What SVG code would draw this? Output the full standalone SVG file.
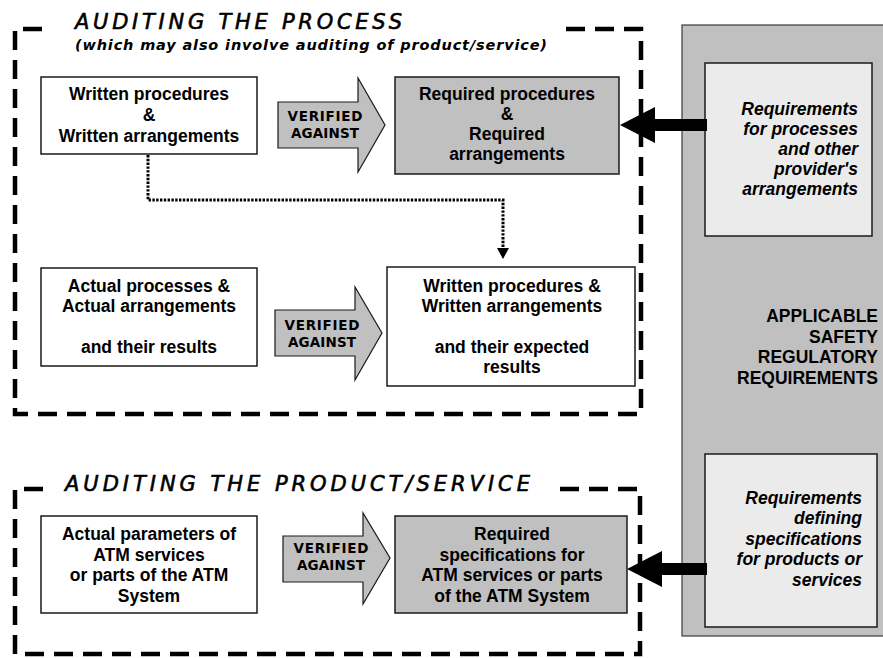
<svg xmlns="http://www.w3.org/2000/svg" width="883" height="658" viewBox="0 0 883 658">
  <defs>
    <style>
      .frame { fill: none; stroke: #000; stroke-width: 4.5; stroke-dasharray: 19 10; }
      .box { fill: #fff; stroke: #1a1a1a; stroke-width: 1.5; }
      .gbox { fill: #c0c0c0; stroke: #1a1a1a; stroke-width: 1.5; }
      .panel { fill: #c0c0c0; stroke: #3a3a3a; stroke-width: 1.2; }
      .lbox { fill: #ebebeb; stroke: #1a1a1a; stroke-width: 1.5; }
      .varrow { fill: #c0c0c0; stroke: #1a1a1a; stroke-width: 1.2; }
      .barrow { fill: #000; }
      .dotted { fill: none; stroke: #000; stroke-width: 3; stroke-dasharray: 2.4 1.4; }
      .title { font-family: "DejaVu Sans", Verdana, sans-serif; font-style: oblique; font-size: 21px; fill: #000; stroke: #000; stroke-width: 0.6; }
      .sub { font-family: "DejaVu Sans", Verdana, sans-serif; font-style: oblique; font-weight: bold; font-size: 14.5px; fill: #000; }
      .t { font-family: "Liberation Sans", Arial, sans-serif; font-weight: bold; font-size: 17.5px; fill: #000; text-anchor: middle; }
      .ti { font-family: "Liberation Sans", Arial, sans-serif; font-weight: bold; font-style: italic; font-size: 17.5px; fill: #000; text-anchor: end; }
      .tr { font-family: "Liberation Sans", Arial, sans-serif; font-weight: bold; font-size: 17.5px; fill: #000; text-anchor: end; }
      .va { font-family: "DejaVu Sans", Verdana, sans-serif; font-weight: bold; font-size: 13.5px; fill: #000; text-anchor: middle; }
    </style>
    <marker id="dotHead" viewBox="0 0 11 12" refX="2" refY="6" markerWidth="11" markerHeight="12" markerUnits="userSpaceOnUse" orient="auto">
      <path d="M0,0 L11,6 L0,12 Z" fill="#000"/>
    </marker>
  </defs>

  <!-- regulatory requirements panel -->
  <g id="regulatory-panel">
    <rect class="panel" x="682" y="25" width="210" height="611"/>
    <text class="tr" x="878" y="322">APPLICABLE</text>
    <text class="tr" x="878" y="343">SAFETY</text>
    <text class="tr" x="878" y="363">REGULATORY</text>
    <text class="tr" x="878" y="384">REQUIREMENTS</text>
  </g>
  <g id="req-processes">
    <rect class="lbox" x="705" y="63" width="167" height="173"/>
    <text class="ti" x="858" y="115">Requirements</text>
    <text class="ti" x="858" y="135">for processes</text>
    <text class="ti" x="858" y="155">and other</text>
    <text class="ti" x="858" y="175">provider's</text>
    <text class="ti" x="858" y="195">arrangements</text>
  </g>
  <g id="req-specifications">
    <rect class="lbox" x="705" y="454" width="172" height="173"/>
    <text class="ti" x="862" y="504">Requirements</text>
    <text class="ti" x="862" y="524">defining</text>
    <text class="ti" x="862" y="545">specifications</text>
    <text class="ti" x="862" y="565">for products or</text>
    <text class="ti" x="862" y="586">services</text>
  </g>

  <!-- process audit frame -->
  <g id="process-frame">
    <path class="frame" d="M566,29 H641 V414 H15 V29 H50"/>
    <text class="title" x="75" y="29" textLength="327" lengthAdjust="spacing">AUDITING THE PROCESS</text>
    <text class="sub" x="75" y="50" textLength="472" lengthAdjust="spacing">(which may also involve auditing of product/service)</text>
  </g>

  <!-- product/service audit frame -->
  <g id="product-frame">
    <path class="frame" d="M560,489 H640 V654 H15 V489 H48"/>
    <text class="title" x="65" y="491" textLength="465" lengthAdjust="spacing">AUDITING THE PRODUCT/SERVICE</text>
  </g>

  <g id="written-procedures">
    <rect class="box" x="41" y="77" width="216" height="77"/>
    <text class="t" x="149" y="100">Written procedures</text>
    <text class="t" x="149" y="121">&amp;</text>
    <text class="t" x="149" y="142">Written arrangements</text>
  </g>
  <g id="verified-1">
    <path class="varrow" d="M278,102 H358 V78 L385,125 L358,172 V148 H278 Z"/>
    <text class="va" x="325" y="121" textLength="75" lengthAdjust="spacing">VERIFIED</text>
    <text class="va" x="325" y="138" textLength="68" lengthAdjust="spacing">AGAINST</text>
  </g>
  <g id="required-procedures">
    <rect class="gbox" x="395" y="77" width="224" height="97"/>
    <text class="t" x="507" y="100">Required procedures</text>
    <text class="t" x="507" y="120">&amp;</text>
    <text class="t" x="507" y="140">Required</text>
    <text class="t" x="507" y="160">arrangements</text>
  </g>

  <g id="actual-processes">
    <rect class="box" x="41" y="268" width="216" height="98"/>
    <text class="t" x="149" y="292">Actual processes &amp;</text>
    <text class="t" x="149" y="312">Actual arrangements</text>
    <text class="t" x="149" y="353">and their results</text>
  </g>
  <g id="verified-2">
    <path class="varrow" d="M275,310 H355 V287 L382,333 L355,380 V356 H275 Z"/>
    <text class="va" x="322" y="330" textLength="75" lengthAdjust="spacing">VERIFIED</text>
    <text class="va" x="322" y="347" textLength="68" lengthAdjust="spacing">AGAINST</text>
  </g>
  <g id="written-expected">
    <rect class="box" x="387" y="267" width="248" height="119"/>
    <text class="t" x="512" y="292">Written procedures &amp;</text>
    <text class="t" x="512" y="312">Written arrangements</text>
    <text class="t" x="512" y="353">and their expected</text>
    <text class="t" x="512" y="373">results</text>
  </g>

  <g id="actual-parameters">
    <rect class="box" x="41" y="516" width="216" height="97"/>
    <text class="t" x="149" y="540">Actual parameters of</text>
    <text class="t" x="149" y="561">ATM services</text>
    <text class="t" x="149" y="581">or parts of the ATM</text>
    <text class="t" x="149" y="602">System</text>
  </g>
  <g id="verified-3">
    <path class="varrow" d="M283,536 H363 V513 L390,558 L363,604 V582 H283 Z"/>
    <text class="va" x="331" y="553" textLength="75" lengthAdjust="spacing">VERIFIED</text>
    <text class="va" x="331" y="570" textLength="68" lengthAdjust="spacing">AGAINST</text>
  </g>
  <g id="required-specifications">
    <rect class="gbox" x="395" y="516" width="232" height="97"/>
    <text class="t" x="512" y="540">Required</text>
    <text class="t" x="512" y="561">specifications for</text>
    <text class="t" x="512" y="581">ATM services or parts</text>
    <text class="t" x="512" y="602">of the ATM System</text>
  </g>

  <!-- connectors -->
  <g id="connectors">
    <path class="dotted" d="M148,155 V200 H503 V250" marker-end="url(#dotHead)"/>
    <polygon class="barrow" points="707,119 655,119 655,107 620,125 655,143 655,131 707,131"/>
    <polygon class="barrow" points="707,563 662,563 662,551 627,569 662,587 662,575 707,575"/>
  </g>
</svg>
